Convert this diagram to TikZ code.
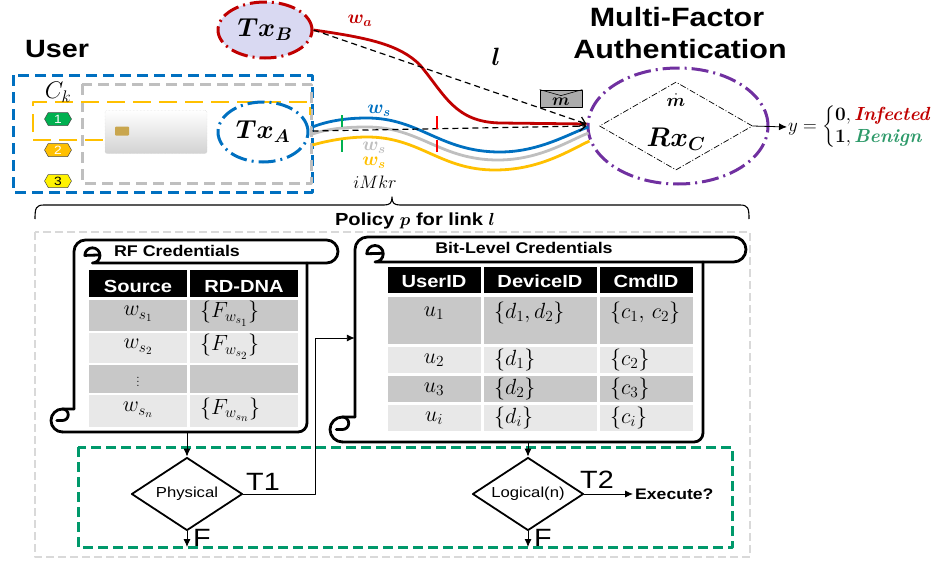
\RequirePackage{fix-cm}
\documentclass[tikz,border=0pt]{standalone}
\usepackage[no-math]{fontspec}
\usepackage{amsmath,bm}
\usetikzlibrary{shapes.geometric,shapes.symbols,arrows.meta,calc}
\newfontfamily\sff{Liberation Sans}[FakeStretch=1.15]

\definecolor{uBlue}{HTML}{0070C0}
\definecolor{uGray}{HTML}{BFBFBF}
\definecolor{uGold}{HTML}{FFC000}
\definecolor{uRed}{HTML}{C00000}
\definecolor{uPurple}{HTML}{7030A0}
\definecolor{uTeal}{HTML}{00996B}
\definecolor{uGreen}{HTML}{00B050}
\definecolor{uLav}{HTML}{D9D9F2}
\definecolor{rowDark}{HTML}{C8C8C8}
\definecolor{rowLight}{HTML}{E8E8E8}
\definecolor{benign}{HTML}{2E9A6A}
\definecolor{outerGray}{HTML}{D9D9D9}
\definecolor{chipGold}{HTML}{C9A64E}

% scroll outline: #1 left, #2 top, #3 bar right, #4 body right, #5 bottom, #6 bar height
\newcommand{\scrollframe}[6]{%
  % left edge, rolled top bar and its curl
  \draw[scrollline] (#1,{#5-#6}) -- (#1,{#2+#6/2})
    arc[start angle=180, end angle=270, radius={#6/2}]
    -- ({#3-#6/2},#2)
    arc[start angle=270, end angle=450, radius={#6/2}]
    -- ({#1+0.8*#6},{#2+#6})
    arc[start angle=90, end angle=-180, radius={0.33*#6}]
    -- ({#1+1.13*#6},{#2+0.65*#6});
  % body
  \draw[scrollline, rounded corners=9pt] (#4,{#2+#6}) -- (#4,#5) -- ({#1-#6/2},#5);
  % rolled bottom-left corner
  \draw[scrollline] ({#1-#6/2},#5)
    arc[start angle=90, end angle=270, radius={#6/2}] -- (#1,{#5-#6});
  \draw[scrollline] ({#1-#6/2},{#5-#6})
    arc[start angle=270, end angle=450, radius={#6/4}]
    -- ({#1-0.75*#6},{#5-#6/2});
}

\tikzset{
  sans/.style={font={\sff\fontsize{#1}{#1}\selectfont}},
  sansb/.style={font={\sff\bfseries\fontsize{#1}{#1}\selectfont}},
  mth/.style={font={\fontsize{#1}{#1}\selectfont}},
  boxdash/.style={line width=3pt, dash pattern=on 11pt off 6pt},
  dashdotline/.style={dash pattern=on 17pt off 5pt on 2pt off 5pt},
  wire/.style={line width=2.8pt},
  tickmark/.style={line width=2.6pt},
  hexa/.style={signal, signal to=east and west, signal pointer angle=120,
    draw=black!70, line width=0.5pt, minimum width=27pt, minimum height=13pt,
    inner sep=0pt, font={\sff\fontsize{12}{12}\selectfont}},
  scrollline/.style={line width=2.8pt, line cap=round},
  headtxt/.style={sansb=17.5, text=white, anchor=base},
  celltxt/.style={mth=22, inner sep=1pt},
  decision/.style={diamond, draw, line width=1.8pt, aspect=1.5, inner sep=0pt,
    minimum width=111pt, minimum height=73pt, sans=14.5},
  flow/.style={line width=0.9pt, -{Latex[length=8pt,width=7pt]}},
  linkarrow/.style={line width=1.2pt, dash pattern=on 6pt off 4pt,
    -{Straight Barb[length=6pt,width=10pt]}},
}

\begin{document}
\begin{tikzpicture}[x=1pt, y=-1pt, line join=round]
\useasboundingbox (0,0) rectangle (950,562);

% ---------- user side ----------
\node[sansb=25, anchor=base] (user) at (57,57) {User};
\draw[uBlue, boxdash] (13,75) rectangle (312,192);
\draw[uGray, boxdash] (82,84) rectangle (311,183);
\draw[uGold, line width=2.5pt, dash pattern=on 18pt off 8pt]
  (207,140) -- (33,140) -- (33,102) -- (310,102) -- (310,115);
\node[mth=24] (ck) at (58,92) {$C_k$};
\node[hexa, fill=uGreen, text=white] (hex1) at (58,119) {1};
\node[hexa, fill=uGold, text=white] (hex2) at (58,150) {2};
\node[hexa, fill=yellow, text=black] (hex3) at (58,181) {3};

\node[draw=gray!40, densely dotted, rounded corners=2pt, top color=white,
  bottom color=gray!35, minimum width=102pt, minimum height=43pt] (card) at (156,132) {};
\node[fill=chipGold, rounded corners=1pt, minimum width=14pt, minimum height=9pt,
  inner sep=0pt] (chip) at (122,131) {};

\node[ellipse, draw=uBlue, line width=3pt, dashdotline, minimum width=90pt,
  minimum height=60pt, inner sep=0pt, mth=26] (txA) at (263,132) {$\bm{Tx_A}$};
\node[ellipse, draw=uRed, fill=uLav, line width=3pt, dashdotline, minimum width=94pt,
  minimum height=56pt, inner sep=0pt, mth=26] (txB) at (265,30) {$\bm{Tx_B}$};

% ---------- receiver ----------
\node[sansb=26.5, anchor=base] (mfa1) at (677,27) {Multi-Factor};
\node[sansb=26.5, anchor=base] (mfa2) at (680,58) {Authentication};
\node[ellipse, draw=uPurple, line width=3pt, dashdotline, minimum width=180pt,
  minimum height=116pt] (rxC) at (678,126) {};
\node[diamond, draw, line width=0.7pt, dash pattern=on 6pt off 2pt on 1pt off 2pt,
  minimum width=153pt, minimum height=88pt, inner sep=0pt, aspect=1.74] (rxd) at (676,126) {};
\node[mth=18, inner sep=1pt] (mdot) at (676,100) {$\dot{\bm m}$};
\node[mth=27, inner sep=1pt] (rxlab) at (676,139) {$\bm{Rx_C}$};
\node[anchor=west, inner sep=1pt, mth=19] (ylab) at (787,127)
  {$y=\begin{cases}\mathbf{0},\textcolor{uRed}{\textbf{\textit{Infected}}}\\
   \mathbf{1},\textcolor{benign}{\textbf{\textit{Benign}}}\end{cases}$};
\draw[line width=0.8pt, -{Latex[length=8pt,width=7pt]}] (rxd.east) -- (ylab.west);

% ---------- wireless links ----------
\draw[uGold, wire] ($(txA.east)+(3,13)$) .. controls (330,140) and (350,137) .. (367,137)
  .. controls (420,137) and (440,170) .. (495,170) .. controls (540,170) and (570,150) .. ($(rxC.west)+(3,15)$);
\draw[uGray, wire] ($(txA.east)+(3,2)$) .. controls (330,128) and (350,127) .. (367,127)
  .. controls (420,127) and (440,160) .. (498,160) .. controls (540,160) and (570,140) .. ($(rxC.west)+(2,7)$);
\draw[uBlue, wire] ($(txA.east)+(3,-5)$) .. controls (330,120) and (350,118) .. (367,118)
  .. controls (420,118) and (440,152) .. (500,152) .. controls (540,152) and (570,133) .. ($(rxC.west)+(2,1)$);
\draw[uRed, wire] (txB.east) .. controls (370,38) and (400,45) .. (420,65)
  .. controls (445,95) and (455,122) .. (500,123) -- ($(rxC.west)+(0,-2)$);
\draw[linkarrow] (txB.east) -- ($(rxC.west)+(0,-2)$);
\draw[linkarrow] ($(txA.east)+(3,-1)$) -- (rxC.west);

\draw[uGreen, tickmark] (342,115) -- (342,127);
\draw[uGreen, tickmark] (342,140) -- (342,152);
\draw[red, tickmark] (437,116) -- (437,129);
\draw[red, tickmark] (437,140) -- (437,152);

\node[mth=19, text=uRed] (wa) at (360,21) {$\bm{w_a}$};
\node[mth=19, text=uBlue] (wsb) at (379,111) {$\bm{w_s}$};
\node[mth=19, text=uGray] (wsg) at (374,148) {$\bm{w_s}$};
\node[mth=19, text=uGold] (wsy) at (374,163) {$\bm{w_s}$};
\node[mth=18] (imkr) at (375,182) {$iMkr$};
\node[mth=25] (link) at (496,57) {$\bm{l}$};

\node[draw, fill=gray!65, line width=0.8pt, minimum width=42pt, minimum height=17pt,
  inner sep=0pt] (env) at (561,98.5) {};
\draw[line width=0.6pt] (env.north west) -- ($(env.north)+(0,6)$) -- (env.north east);
\node[mth=17, inner sep=0pt] (envm) at (561,102) {$\bm m$};

% ---------- policy ----------
\draw[line width=1.1pt] (35,219) .. controls (35,208) and (36,205) .. (44,205) -- (384,205)
  .. controls (390,205) and (392,203) .. (392,197) .. controls (392,203) and (394,205) .. (400,205)
  -- (740,205) .. controls (748,205) and (749,208) .. (749,219);
\node[sansb=17.5, anchor=base] (policy) at (415,225) {Policy $\bm p$ for link $\bm l$};
\draw[outerGray, line width=2.5pt, dash pattern=on 8pt off 4pt] (35,232) rectangle (750,557);

% RF credentials scroll
\scrollframe{74}{240}{338}{307}{432}{23}
\node[minimum width=233pt, minimum height=170pt, inner sep=0pt] (rf) at (190.5,347) {};
\node[sansb=15.5, anchor=base] (rftitle) at (177,256) {RF Credentials};
\fill[black] (89,270) rectangle (187,297);
\fill[black] (190,270) rectangle (298,297);
\fill[rowDark]  (89,300) rectangle (187,331);  \fill[rowDark]  (190,300) rectangle (298,331);
\fill[rowLight] (89,333) rectangle (187,363);  \fill[rowLight] (190,333) rectangle (298,363);
\fill[rowDark]  (89,365) rectangle (187,393);  \fill[rowDark]  (190,365) rectangle (298,393);
\fill[rowLight] (89,395) rectangle (187,427);  \fill[rowLight] (190,395) rectangle (298,427);
\node[headtxt] (hsrc) at (138,292) {Source};
\node[headtxt] (hdna) at (244,292) {RD-DNA};
\node[celltxt] (r1a) at (138,314) {$w_{s_1}$};
\node[celltxt, anchor=west] (r1b) at (199,314) {$\{F_{w_{s_1}}\}$};
\node[celltxt] (r2a) at (138,347) {$w_{s_2}$};
\node[celltxt, anchor=west] (r2b) at (199,347) {$\{F_{w_{s_2}}\}$};
\node[celltxt, mth=15] (r3a) at (138,379) {$\vdots$};
\node[celltxt] (r4a) at (138,410) {$w_{s_n}$};
\node[celltxt, anchor=west] (r4b) at (199,410) {$\{F_{w_{s_n}}\}$};

% bit-level credentials scroll
\scrollframe{355}{237}{746}{703}{442}{25}
\node[minimum width=348pt, minimum height=180pt, inner sep=0pt] (bl) at (529,352) {};
\node[sansb=15.5, anchor=base] (bltitle) at (524,253) {Bit-Level Credentials};
\fill[black] (388,267) rectangle (481,293);
\fill[black] (484,267) rectangle (597,293);
\fill[black] (600,267) rectangle (693,293);
\foreach \ya/\yb/\c in {297/344/rowDark, 347/373/rowLight, 376/402/rowDark, 405/431/rowLight}{
  \fill[\c] (388,\ya) rectangle (481,\yb);
  \fill[\c] (484,\ya) rectangle (597,\yb);
  \fill[\c] (600,\ya) rectangle (693,\yb);
}
\node[headtxt] (huid) at (434,287) {UserID};
\node[headtxt] (hdid) at (540,287) {DeviceID};
\node[headtxt] (hcid) at (646,287) {CmdID};
\node[celltxt] (u1) at (434,313) {$u_1$};
\node[celltxt, anchor=west] (d1) at (493,313) {$\{d_1,d_2\}$};
\node[celltxt, anchor=west] (c1) at (609,313) {$\{c_1,\,c_2\}$};
\node[celltxt] (u2) at (434,360) {$u_2$};
\node[celltxt, anchor=west] (d2) at (493,360) {$\{d_1\}$};
\node[celltxt, anchor=west] (c2) at (609,360) {$\{c_2\}$};
\node[celltxt] (u3) at (434,389) {$u_3$};
\node[celltxt, anchor=west] (d3) at (493,389) {$\{d_2\}$};
\node[celltxt, anchor=west] (c3) at (609,389) {$\{c_3\}$};
\node[celltxt] (ui) at (434,418) {$u_i$};
\node[celltxt, anchor=west] (di) at (493,418) {$\{d_i\}$};
\node[celltxt, anchor=west] (ci) at (609,418) {$\{c_i\}$};

% ---------- decisions ----------
\draw[uTeal, line width=3pt, dash pattern=on 10pt off 5pt] (78,447) rectangle (732,547);
\node[decision] (phys) at (187,494) {Physical};
\node[decision] (logic) at (528,494) {Logical(n)};
\coordinate (physF) at (187,547);
\coordinate (logicF) at (528,547);
\coordinate (jog) at (315,338);
\node[sansb=15.3, anchor=west, inner sep=2pt] (exec) at (633,494) {Execute?};

\draw[flow] (rf.south -| phys.north) -- (phys.north);
\draw[flow] (bl.south -| logic.north) -- (logic.north);
\draw[flow] (phys.east) -| (jog) -- (jog -| bl.west);
\draw[flow] (logic.east) -- (exec.west);
\draw[flow] (phys.south) -- (physF);
\draw[flow] (logic.south) -- (logicF);

\node[sans=25, anchor=base] (t1) at (263,490) {T1};
\node[sans=25, anchor=base] (t2) at (597,488) {T2};
\node[sans=25, anchor=base] (f1) at (202,546) {F};
\node[sans=25, anchor=base] (f2) at (543,546) {F};
\end{tikzpicture}
\end{document}
